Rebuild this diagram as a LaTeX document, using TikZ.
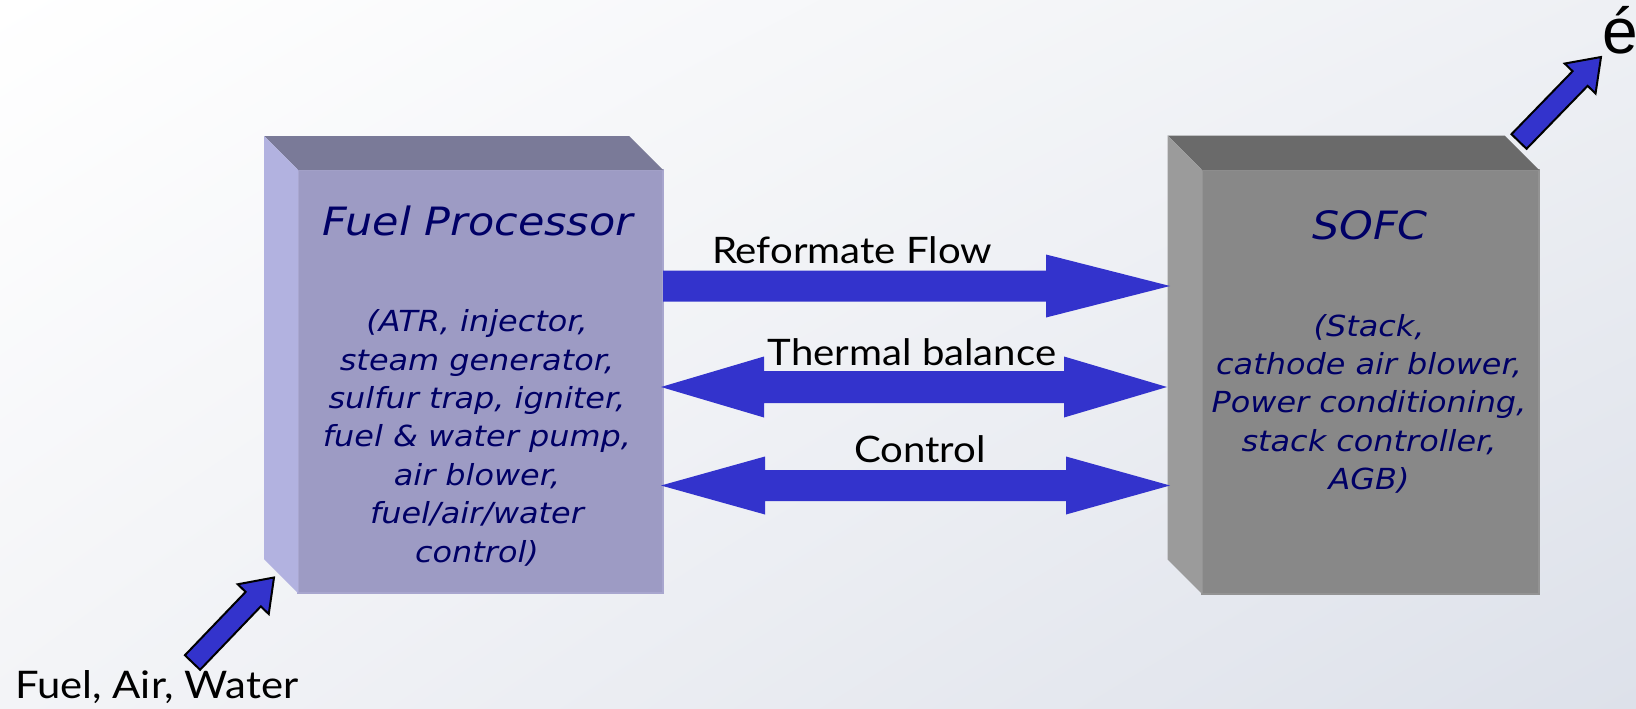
\documentclass[tikz,border=0pt]{standalone}
\usepackage{fontspec}
\usetikzlibrary{calc,shadings}
\newfontfamily\verd[FakeStretch=1.1]{DejaVu Sans}
\newfontfamily\gill[FakeStretch=1.1]{Lato}
\newfontfamily\arialf{Liberation Sans}
\definecolor{fpTop}{HTML}{7A7A98}
\definecolor{fpFront}{HTML}{9D9BC4}
\definecolor{fpSide}{HTML}{B2B2E0}
\definecolor{fpEdge}{HTML}{A8A6CE}
\definecolor{scTop}{HTML}{6A6A6A}
\definecolor{scFront}{HTML}{888888}
\definecolor{scSide}{HTML}{9B9B9B}
\definecolor{scEdge}{HTML}{939393}
\definecolor{arrBlue}{HTML}{3333CC}
\definecolor{navy}{HTML}{000066}
\definecolor{bgUR}{HTML}{EEF0F4}
\definecolor{bgLL}{HTML}{F3F4F7}
\definecolor{bgLR}{HTML}{DDE1EA}
% single-headed block arrow: name, style, tail, tip, shaft half width, head half width, head length
\newcommand\onearrow[7]{%
  \coordinate (#1b) at ($(#4)!#7!(#3)$);
  \path[#2] ($(#3)!#5!90:(#4)$) -- ($(#1b)!#5!90:(#4)$) -- ($(#1b)!#6!90:(#4)$) -- (#4)
    -- ($(#1b)!#6!-90:(#4)$) -- ($(#1b)!#5!-90:(#4)$) -- ($(#3)!#5!-90:(#4)$) -- cycle;}
% double-headed block arrow: name, style, left tip, right tip, shaft half width, head half width, head length
\newcommand\twoarrow[7]{%
  \coordinate (#1a) at ($(#3)!#7!(#4)$);
  \coordinate (#1b) at ($(#4)!#7!(#3)$);
  \path[#2] (#3) -- ($(#1a)!#6!90:(#4)$) -- ($(#1a)!#5!90:(#4)$) -- ($(#1b)!#5!90:(#4)$)
    -- ($(#1b)!#6!90:(#4)$) -- (#4) -- ($(#1b)!#6!-90:(#4)$) -- ($(#1b)!#5!-90:(#4)$)
    -- ($(#1a)!#5!-90:(#4)$) -- ($(#1a)!#6!-90:(#4)$) -- cycle;}
\tikzset{
  face/.style={inner sep=0pt, outer sep=0pt, line width=1.5pt},
  title/.style={inner sep=0pt, anchor=base, text=navy, font=\verd\itshape\fontsize{39}{46}\selectfont},
  body/.style={inner sep=0pt, anchor=north, align=center, text=navy, font=\verd\itshape\fontsize{29}{38.35}\selectfont},
  lbl/.style={inner sep=0pt, anchor=base, text=black, font=\gill\fontsize{36.5}{40}\selectfont},
  flat/.style={fill=arrBlue},
  outlined/.style={fill=arrBlue, draw=black, line width=2pt, line join=miter},
}
\begin{document}
\begin{tikzpicture}[x=1pt, y=-1pt]
\useasboundingbox (0,0) rectangle (1636,709);
\shade[upper left=white, upper right=bgUR, lower left=bgLL, lower right=bgLR] (0,0) rectangle (1636,709);

% Fuel processor box
\node[face, fill=fpFront, draw=fpEdge, minimum width=365pt, minimum height=423pt] (fp) at (480.5,381.5) {};
\fill[fpTop] (fp.north west) -- (fp.north east) -- ([shift={(-34,-34)}]fp.north east) -- ([shift={(-34,-34)}]fp.north west) -- cycle;
\fill[fpSide] (fp.north west) -- (fp.south west) -- ([shift={(-34,-34)}]fp.south west) -- ([shift={(-34,-34)}]fp.north west) -- cycle;
\node[title] (fpt) at (478,235) {Fuel Processor};
\node[body] (fpb) at (477,309.7) {(ATR, injector,\\steam generator,\\sulfur trap, igniter,\\fuel \& water pump,\\air blower,\\fuel/air/water\\control)};

% SOFC box
\node[face, fill=scFront, draw=scEdge, minimum width=337pt, minimum height=424pt] (sofc) at (1370.5,382) {};
\fill[scTop] (sofc.north west) -- (sofc.north east) -- ([shift={(-34.5,-34.5)}]sofc.north east) -- ([shift={(-34.5,-34.5)}]sofc.north west) -- cycle;
\fill[scSide] (sofc.north west) -- (sofc.south west) -- ([shift={(-34.5,-34.5)}]sofc.south west) -- ([shift={(-34.5,-34.5)}]sofc.north west) -- cycle;
\node[title] (sofct) at (1370,239) {SOFC};
\node[body] (sofcb) at (1369,314) {(Stack,\\cathode air blower,\\Power conditioning,\\stack controller,\\AGB)};

% horizontal block arrows
\coordinate (rfL) at (fp.east |- 0,286);
\coordinate (rfR) at (1170,286);
\onearrow{rf}{flat}{rfL}{rfR}{15.5pt}{31.5pt}{124pt}
\coordinate (thL) at (661,387);
\coordinate (thR) at (1167,387);
\twoarrow{th}{flat}{thL}{thR}{16pt}{30.5pt}{103pt}
\coordinate (ctL) at (661,485.5);
\coordinate (ctR) at (1170,485.5);
\twoarrow{ct}{flat}{ctL}{ctR}{15.5pt}{29pt}{104pt}

\node[lbl] (rft) at (852,263) {Reformate Flow};
\node[lbl] (tht) at (912,365) {Thermal balance};
\node[lbl] (ctt) at (920,462) {Control};

% input arrow
\coordinate (inT) at (192.5,662.5);
\coordinate (inP) at (274,577.5);
\onearrow{in}{outlined}{inT}{inP}{10.5pt}{21.5pt}{30pt}
\node[lbl, anchor=base west, font=\gill\fontsize{38}{42}\selectfont] (fawt) at (15,698) {Fuel, Air, Water};

% output arrow
\coordinate (outT) at (1519,141.5);
\coordinate (outP) at (1601,57);
\onearrow{out}{outlined}{outT}{outP}{10.5pt}{21.5pt}{30pt}
\node[inner sep=0pt, anchor=base west, font=\arialf\fontsize{64}{66}\selectfont] (eacute) at (1602,54) {é};
\end{tikzpicture}
\end{document}
